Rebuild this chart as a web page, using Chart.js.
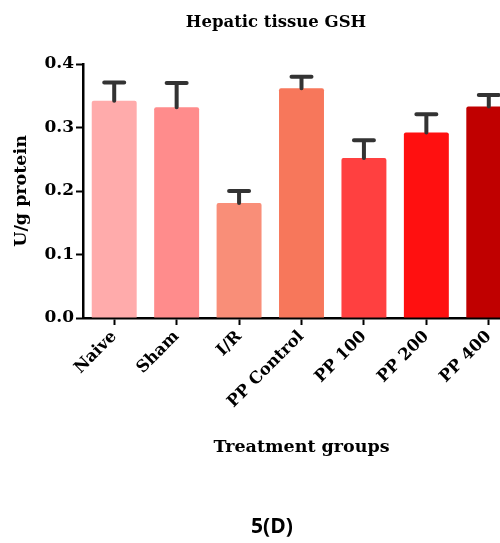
<!DOCTYPE html>
<html>
<head>
<meta charset="utf-8">
<script src="https://cdn.jsdelivr.net/npm/chart.js@4"></script>
<style>
  html, body { margin: 0; padding: 0; background: #fff; overflow: hidden; }
  #wrap { width: 500px; height: 543px; overflow: hidden; position: relative; }
  #chart { position: absolute; left: 0; top: 0; }
</style>
</head>
<body>
<div id="wrap"><canvas id="chart" width="520" height="543"></canvas></div>
<script>
// data
const groups = ['Naive', 'Sham', 'I/R', 'PP Control', 'PP 100', 'PP 200', 'PP 400'];
const gsh = [0.342, 0.332, 0.181, 0.362, 0.252, 0.292, 0.333];
const sem = [0.029, 0.038, 0.019, 0.018, 0.028, 0.029, 0.018];
const barColors = ['#FFABAB', '#FF8C8C', '#F98E78', '#F7775B', '#FF4040', '#FF1010', '#C00000'];
const yTicks = [0, 0.1, 0.2, 0.3, 0.4];

const serifBold = { family: '"DejaVu Serif", serif', weight: 'bold' };

// SEM bars drawn on top of each bar
const errorBars = {
    id: 'errorBars',
    afterDatasetsDraw(chart) {
        const ctx = chart.ctx;
        const y = chart.scales.y;
        const meta = chart.getDatasetMeta(0);
        ctx.save();
        ctx.strokeStyle = '#333';
        ctx.lineWidth = 4;
        ctx.lineCap = 'round';
        meta.data.forEach((bar, i) => {
            const top = y.getPixelForValue(gsh[i] + sem[i]);
            ctx.beginPath();
            ctx.moveTo(bar.x, bar.y);
            ctx.lineTo(bar.x, top);
            ctx.moveTo(bar.x - 10, top);
            ctx.lineTo(bar.x + 10, top);
            ctx.stroke();
        });
        ctx.restore();
    }
};

// heading and figure caption
const labels = {
    id: 'labels',
    afterDraw(chart) {
        const ctx = chart.ctx;
        ctx.save();
        ctx.fillStyle = '#000';
        ctx.textAlign = 'center';
        ctx.textBaseline = 'middle';
        ctx.font = 'bold 16.5px "DejaVu Serif", serif';
        ctx.fillText('Hepatic tissue GSH', 276, 23);
        ctx.font = 'bold 21px "Open Sans", "Liberation Sans", sans-serif';
        ctx.fillText('5(D)', 272, 527);
        ctx.restore();
    }
};

new Chart(document.getElementById('chart'), {
    type: 'bar',
    data: {
        labels: groups,
        datasets: [{
            data: gsh,
            backgroundColor: barColors,
            borderWidth: 0,
            borderRadius: 2,
            barPercentage: 0.8,
            categoryPercentage: 0.9
        }]
    },
    options: {
        responsive: false,
        animation: false,
        layout: { padding: { top: 64, bottom: 84, left: 0, right: 0 } },
        plugins: {
            legend: { display: false },
            tooltip: { enabled: false }
        },
        scales: {
            x: {
                grid: {
                    offset: false,
                    drawOnChartArea: false,
                    tickLength: 7,
                    tickWidth: 2,
                    tickColor: '#000'
                },
                border: { color: '#000', width: 2.5 },
                ticks: {
                    color: '#000',
                    font: { ...serifBold, size: 16.5 },
                    maxRotation: 45,
                    minRotation: 45,
                    padding: 2
                },
                title: {
                    display: true,
                    text: 'Treatment groups',
                    color: '#000',
                    font: { ...serifBold, size: 17.5 },
                    padding: { top: 0, bottom: 1 }
                },
                afterFit(scale) { scale.height = 141; }
            },
            y: {
                min: 0,
                max: 0.4,
                grid: {
                    drawOnChartArea: false,
                    tickLength: 7,
                    tickWidth: 2,
                    tickColor: '#000'
                },
                border: { color: '#000', width: 2.5 },
                afterBuildTicks(scale) { scale.ticks = yTicks.map(v => ({ value: v })); },
                ticks: {
                    color: '#000',
                    font: { ...serifBold, size: 17 },
                    padding: 2,
                    callback: v => v.toFixed(1)
                },
                title: {
                    display: true,
                    text: 'U/g protein',
                    color: '#000',
                    font: { ...serifBold, size: 17.5 },
                    padding: { top: 11, bottom: 2 }
                },
                afterFit(scale) { scale.width = 83; }
            }
        }
    },
    plugins: [errorBars, labels]
});
</script>
</body>
</html>
